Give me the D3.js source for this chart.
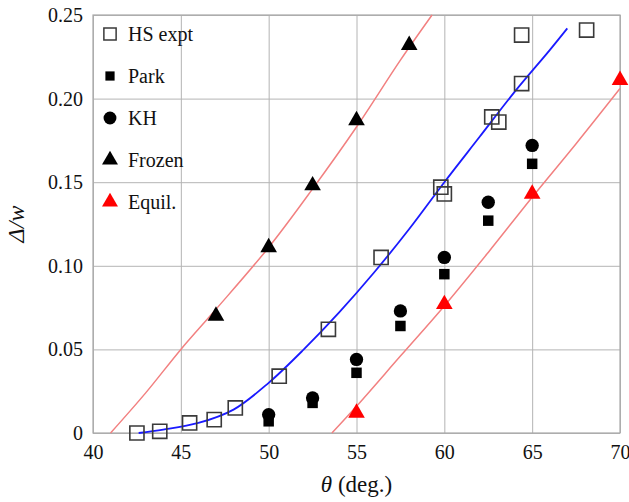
<!DOCTYPE html>
<html>
<head>
<meta charset="utf-8">
<script src="https://cdn.jsdelivr.net/npm/d3@7"></script>
<style>
  body { margin: 0; background: #fff; }
  .grid line { stroke: #b4b4b4; stroke-width: 1; }
  .grid path { display: none; }
  .ticks line, .ticks path { display: none; }
</style>
</head>
<body>
<div id="chart"></div>
<script>
// data: [theta, delta/w]
var hsExpt = [[42.5, 0.000], [43.8, 0.001], [45.5, 0.006], [46.9, 0.008], [48.1, 0.015],
              [50.6, 0.034], [53.4, 0.062], [56.4, 0.105], [59.8, 0.147], [60.0, 0.143],
              [62.7, 0.189], [63.1, 0.186], [64.4, 0.209], [64.4, 0.238], [68.1, 0.241]];
var park = [[50, 0.007], [52.5, 0.018], [55, 0.036], [57.5, 0.064], [60, 0.095], [62.5, 0.127], [65, 0.161]];
var kh = [[50, 0.011], [52.5, 0.021], [55, 0.044], [57.5, 0.073], [60, 0.105], [62.5, 0.138], [65, 0.172]];
var frozen = [[47, 0.070], [50, 0.111], [52.5, 0.148], [55, 0.187], [58, 0.232]];
var equil = [[55, 0.012], [60, 0.077], [65, 0.143], [70, 0.211]];

// fitted curves
var frozenFit = [[41.0, 0.000], [43, 0.024], [45, 0.050], [47, 0.074], [50, 0.111], [52.5, 0.146],
                 [55, 0.183], [57.5, 0.223], [59.3, 0.250]];
var equilFit = [[53.6, 0.000], [55, 0.016], [57.5, 0.046], [60, 0.076], [62.5, 0.108],
                [65, 0.141], [67.5, 0.173], [70, 0.206]];
var hsFit = [[42.6, 0.000], [44, 0.002], [46, 0.006], [48, 0.014], [50, 0.030], [52, 0.050],
             [54, 0.072], [56, 0.096], [58, 0.122], [60, 0.150], [62, 0.177], [64, 0.204],
             [66, 0.229], [67, 0.242]];

var xTicks = [40, 45, 50, 55, 60, 65, 70];
var yTicks = [0, 0.05, 0.10, 0.15, 0.20, 0.25];
var yTickLabels = ["0", "0.05", "0.10", "0.15", "0.20", "0.25"];
var legendNames = ["HS expt", "Park", "KH", "Frozen", "Equil."];

var serif = "'Liberation Serif', 'Times New Roman', Times, 'DejaVu Serif', serif";

var margin = {top: 15, right: 9, bottom: 69, left: 93},
    width = 629 - margin.left - margin.right,
    height = 502 - margin.top - margin.bottom;

var svg = d3.select("#chart").append("svg")
    .attr("width", 629)
    .attr("height", 502)
    .style("font-family", serif)
    .append("g")
    .attr("transform", "translate(" + margin.left + "," + margin.top + ")");

var x = d3.scaleLinear().domain([40, 70]).range([0, width]);
var y = d3.scaleLinear().domain([0, 0.25]).range([height, 0]);

// grid
svg.append("g")
    .attr("class", "grid")
    .attr("transform", "translate(0," + height + ")")
    .call(d3.axisBottom(x).tickValues(xTicks).tickSize(-height).tickFormat(""));

svg.append("g")
    .attr("class", "grid")
    .call(d3.axisLeft(y).tickValues(yTicks).tickSize(-width).tickFormat(""));

svg.append("rect")
    .attr("width", width)
    .attr("height", height)
    .attr("fill", "none")
    .attr("stroke", "#a8a8a8")
    .attr("stroke-width", 1.2);

// tick labels
var xAxis = svg.append("g")
    .attr("class", "ticks")
    .attr("transform", "translate(0," + height + ")")
    .call(d3.axisBottom(x).tickValues(xTicks).tickSize(0).tickPadding(12).tickFormat(d3.format("d")));

var yAxis = svg.append("g")
    .attr("class", "ticks")
    .call(d3.axisLeft(y).tickValues(yTicks).tickSize(0).tickPadding(10)
        .tickFormat(function (d, i) { return yTickLabels[i]; }));

[xAxis, yAxis].forEach(function (g) {
    g.attr("font-family", null).attr("font-size", null);
    g.selectAll("text")
        .style("font-family", serif)
        .style("font-size", "20px")
        .attr("fill", "#111");
    g.select(".domain").remove();
});

// axis titles
var xt = svg.append("text")
    .attr("x", width / 2)
    .attr("y", height + 59)
    .attr("text-anchor", "middle")
    .style("font-family", serif)
    .style("font-size", "23px")
    .attr("fill", "#111");
xt.append("tspan").style("font-style", "italic").text("θ");
xt.append("tspan").text(" (deg.)");

svg.append("text")
    .attr("transform", "rotate(-90)")
    .attr("x", -height / 2)
    .attr("y", -69)
    .attr("text-anchor", "middle")
    .style("font-family", serif)
    .style("font-size", "24px")
    .style("font-style", "italic")
    .attr("fill", "#111")
    .text("Δ/w");

// lines
var line = d3.line()
    .x(function (d) { return x(d[0]); })
    .y(function (d) { return y(d[1]); })
    .curve(d3.curveCatmullRom);

svg.append("path").datum(frozenFit)
    .attr("d", line).attr("fill", "none").attr("stroke", "#f28080").attr("stroke-width", 1.5);
svg.append("path").datum(equilFit)
    .attr("d", line).attr("fill", "none").attr("stroke", "#f28080").attr("stroke-width", 1.5);
svg.append("path").datum(hsFit)
    .attr("d", line).attr("fill", "none").attr("stroke", "#1a1aff").attr("stroke-width", 1.8);

// markers
var sqOpen = d3.symbol().type(d3.symbolSquare).size(200);
var sqFill = d3.symbol().type(d3.symbolSquare).size(110);
var circ = d3.symbol().type(d3.symbolCircle).size(140);
var tri = d3.symbol().type(d3.symbolTriangle).size(120);

function drawPoints(data, sym, fill, stroke, sw) {
    svg.append("g").selectAll("path")
        .data(data)
        .enter().append("path")
        .attr("d", sym)
        .attr("transform", function (d) { return "translate(" + x(d[0]) + "," + y(d[1]) + ")"; })
        .attr("fill", fill)
        .attr("stroke", stroke)
        .attr("stroke-width", sw);
}

drawPoints(hsExpt, sqOpen, "none", "#3a3a3a", 1.6);
drawPoints(park, sqFill, "#000", "none", 0);
drawPoints(kh, circ, "#000", "none", 0);
drawPoints(frozen, tri, "#000", "none", 0);
drawPoints(equil, tri, "#f00", "none", 0);

// legend
var legendSyms = [
    {sym: d3.symbol().type(d3.symbolSquare).size(150), fill: "none", stroke: "#3a3a3a"},
    {sym: d3.symbol().type(d3.symbolSquare).size(85), fill: "#000", stroke: "none"},
    {sym: d3.symbol().type(d3.symbolCircle).size(130), fill: "#000", stroke: "none"},
    {sym: d3.symbol().type(d3.symbolTriangle).size(110), fill: "#000", stroke: "none"},
    {sym: d3.symbol().type(d3.symbolTriangle).size(110), fill: "#f00", stroke: "none"}
];

var legend = svg.append("g").attr("transform", "translate(17,19)");
legendNames.forEach(function (name, i) {
    var s = legendSyms[i];
    legend.append("path")
        .attr("d", s.sym)
        .attr("transform", "translate(0," + (i * 42) + ")")
        .attr("fill", s.fill)
        .attr("stroke", s.stroke)
        .attr("stroke-width", 1.5);
    legend.append("text")
        .attr("x", 18)
        .attr("y", i * 42)
        .attr("dy", "0.35em")
        .style("font-family", serif)
        .style("font-size", "20px")
        .attr("fill", "#111")
        .text(name);
});
</script>
</body>
</html>
